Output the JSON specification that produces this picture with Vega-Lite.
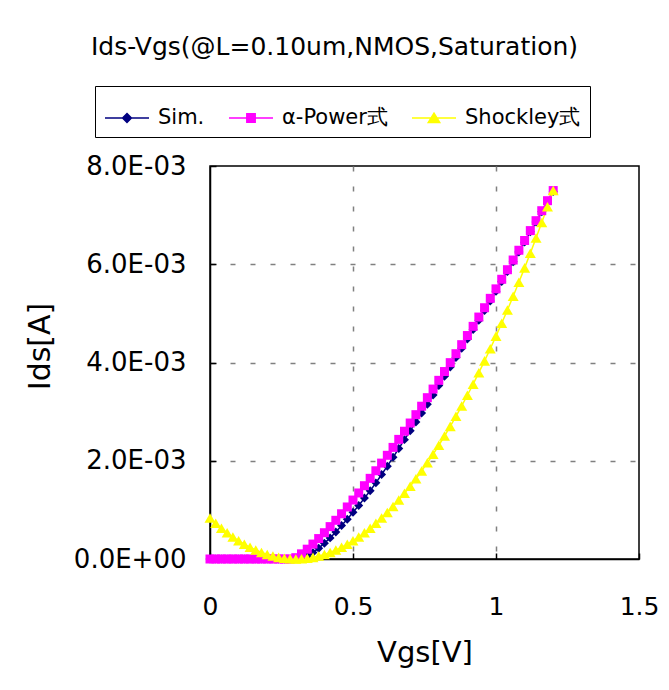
{
  "$schema": "https://vega.github.io/schema/vega-lite/v6.json",
  "width": 429,
  "height": 393,
  "autosize": {"type": "none"},
  "padding": {"left": 210, "top": 166, "right": 30, "bottom": 131},
  "background": "white",
  "title": {
    "text": "Ids-Vgs(@L=0.10um,NMOS,Saturation)",
    "anchor": "middle",
    "frame": "group",
    "dx": -90,
    "offset": 26,
    "font": "DejaVu Sans",
    "fontSize": 25,
    "fontWeight": "normal",
    "color": "black"
  },
  "config": {
    "view": {"stroke": "black", "strokeWidth": 1.5},
    "axis": {
      "domainColor": "black",
      "domainWidth": 1.5,
      "tickColor": "black",
      "tickWidth": 1.5,
      "labelFont": "DejaVu Sans",
      "labelColor": "black",
      "labelFlush": false,
      "labelOverlap": false,
      "titleFont": "DejaVu Sans",
      "titleColor": "black",
      "titleFontWeight": "normal",
      "gridColor": "#808080",
      "gridDash": [5, 15],
      "gridWidth": 1.5
    }
  },
  "data": {
    "values": [
      {"Vgs": 0.00, "Ids": 0, "model": "Sim."},
      {"Vgs": 0.02, "Ids": 0, "model": "Sim."},
      {"Vgs": 0.04, "Ids": 0, "model": "Sim."},
      {"Vgs": 0.06, "Ids": 0, "model": "Sim."},
      {"Vgs": 0.08, "Ids": 0, "model": "Sim."},
      {"Vgs": 0.10, "Ids": 0, "model": "Sim."},
      {"Vgs": 0.12, "Ids": 0, "model": "Sim."},
      {"Vgs": 0.14, "Ids": 0, "model": "Sim."},
      {"Vgs": 0.16, "Ids": 0, "model": "Sim."},
      {"Vgs": 0.18, "Ids": 0, "model": "Sim."},
      {"Vgs": 0.20, "Ids": 0, "model": "Sim."},
      {"Vgs": 0.22, "Ids": 0, "model": "Sim."},
      {"Vgs": 0.24, "Ids": 0, "model": "Sim."},
      {"Vgs": 0.26, "Ids": 0, "model": "Sim."},
      {"Vgs": 0.28, "Ids": 0, "model": "Sim."},
      {"Vgs": 0.30, "Ids": 0.000005, "model": "Sim."},
      {"Vgs": 0.32, "Ids": 0.00002, "model": "Sim."},
      {"Vgs": 0.34, "Ids": 0.00006, "model": "Sim."},
      {"Vgs": 0.36, "Ids": 0.00013, "model": "Sim."},
      {"Vgs": 0.38, "Ids": 0.00022, "model": "Sim."},
      {"Vgs": 0.40, "Ids": 0.00032, "model": "Sim."},
      {"Vgs": 0.42, "Ids": 0.00043, "model": "Sim."},
      {"Vgs": 0.44, "Ids": 0.00055, "model": "Sim."},
      {"Vgs": 0.46, "Ids": 0.00068, "model": "Sim."},
      {"Vgs": 0.48, "Ids": 0.00081, "model": "Sim."},
      {"Vgs": 0.50, "Ids": 0.00095, "model": "Sim."},
      {"Vgs": 0.52, "Ids": 0.00109, "model": "Sim."},
      {"Vgs": 0.54, "Ids": 0.00124, "model": "Sim."},
      {"Vgs": 0.56, "Ids": 0.00139, "model": "Sim."},
      {"Vgs": 0.58, "Ids": 0.00155, "model": "Sim."},
      {"Vgs": 0.60, "Ids": 0.00172, "model": "Sim."},
      {"Vgs": 0.62, "Ids": 0.00189, "model": "Sim."},
      {"Vgs": 0.64, "Ids": 0.00207, "model": "Sim."},
      {"Vgs": 0.66, "Ids": 0.00225, "model": "Sim."},
      {"Vgs": 0.68, "Ids": 0.00243, "model": "Sim."},
      {"Vgs": 0.70, "Ids": 0.00261, "model": "Sim."},
      {"Vgs": 0.72, "Ids": 0.00279, "model": "Sim."},
      {"Vgs": 0.74, "Ids": 0.00297, "model": "Sim."},
      {"Vgs": 0.76, "Ids": 0.00315, "model": "Sim."},
      {"Vgs": 0.78, "Ids": 0.00334, "model": "Sim."},
      {"Vgs": 0.80, "Ids": 0.00353, "model": "Sim."},
      {"Vgs": 0.82, "Ids": 0.00372, "model": "Sim."},
      {"Vgs": 0.84, "Ids": 0.00391, "model": "Sim."},
      {"Vgs": 0.86, "Ids": 0.0041, "model": "Sim."},
      {"Vgs": 0.88, "Ids": 0.00429, "model": "Sim."},
      {"Vgs": 0.90, "Ids": 0.00448, "model": "Sim."},
      {"Vgs": 0.92, "Ids": 0.00467, "model": "Sim."},
      {"Vgs": 0.94, "Ids": 0.00486, "model": "Sim."},
      {"Vgs": 0.96, "Ids": 0.00506, "model": "Sim."},
      {"Vgs": 0.98, "Ids": 0.00525, "model": "Sim."},
      {"Vgs": 1.00, "Ids": 0.00545, "model": "Sim."},
      {"Vgs": 1.02, "Ids": 0.00565, "model": "Sim."},
      {"Vgs": 1.04, "Ids": 0.00585, "model": "Sim."},
      {"Vgs": 1.06, "Ids": 0.00605, "model": "Sim."},
      {"Vgs": 1.08, "Ids": 0.00625, "model": "Sim."},
      {"Vgs": 1.10, "Ids": 0.00645, "model": "Sim."},
      {"Vgs": 1.12, "Ids": 0.00666, "model": "Sim."},
      {"Vgs": 1.14, "Ids": 0.00686, "model": "Sim."},
      {"Vgs": 1.16, "Ids": 0.00707, "model": "Sim."},
      {"Vgs": 1.18, "Ids": 0.00727, "model": "Sim."},
      {"Vgs": 1.20, "Ids": 0.00748, "model": "Sim."},
      {"Vgs": 0.00, "Ids": 0, "model": "α-Power式"},
      {"Vgs": 0.02, "Ids": 0, "model": "α-Power式"},
      {"Vgs": 0.04, "Ids": 0, "model": "α-Power式"},
      {"Vgs": 0.06, "Ids": 0, "model": "α-Power式"},
      {"Vgs": 0.08, "Ids": 0, "model": "α-Power式"},
      {"Vgs": 0.10, "Ids": 0, "model": "α-Power式"},
      {"Vgs": 0.12, "Ids": 0, "model": "α-Power式"},
      {"Vgs": 0.14, "Ids": 0, "model": "α-Power式"},
      {"Vgs": 0.16, "Ids": 0, "model": "α-Power式"},
      {"Vgs": 0.18, "Ids": 0, "model": "α-Power式"},
      {"Vgs": 0.20, "Ids": 0, "model": "α-Power式"},
      {"Vgs": 0.22, "Ids": 0, "model": "α-Power式"},
      {"Vgs": 0.24, "Ids": 0, "model": "α-Power式"},
      {"Vgs": 0.26, "Ids": 0, "model": "α-Power式"},
      {"Vgs": 0.28, "Ids": 0, "model": "α-Power式"},
      {"Vgs": 0.30, "Ids": 0.000027, "model": "α-Power式"},
      {"Vgs": 0.32, "Ids": 0.000105, "model": "α-Power式"},
      {"Vgs": 0.34, "Ids": 0.0002, "model": "α-Power式"},
      {"Vgs": 0.36, "Ids": 0.000304, "model": "α-Power式"},
      {"Vgs": 0.38, "Ids": 0.000416, "model": "α-Power式"},
      {"Vgs": 0.40, "Ids": 0.000535, "model": "α-Power式"},
      {"Vgs": 0.42, "Ids": 0.000659, "model": "α-Power式"},
      {"Vgs": 0.44, "Ids": 0.000788, "model": "α-Power式"},
      {"Vgs": 0.46, "Ids": 0.000921, "model": "α-Power式"},
      {"Vgs": 0.48, "Ids": 0.001059, "model": "α-Power式"},
      {"Vgs": 0.50, "Ids": 0.0012, "model": "α-Power式"},
      {"Vgs": 0.52, "Ids": 0.001344, "model": "α-Power式"},
      {"Vgs": 0.54, "Ids": 0.001492, "model": "α-Power式"},
      {"Vgs": 0.56, "Ids": 0.001642, "model": "α-Power式"},
      {"Vgs": 0.58, "Ids": 0.001796, "model": "α-Power式"},
      {"Vgs": 0.60, "Ids": 0.001952, "model": "α-Power式"},
      {"Vgs": 0.62, "Ids": 0.002111, "model": "α-Power式"},
      {"Vgs": 0.64, "Ids": 0.002272, "model": "α-Power式"},
      {"Vgs": 0.66, "Ids": 0.002435, "model": "α-Power式"},
      {"Vgs": 0.68, "Ids": 0.002601, "model": "α-Power式"},
      {"Vgs": 0.70, "Ids": 0.002768, "model": "α-Power式"},
      {"Vgs": 0.72, "Ids": 0.002938, "model": "α-Power式"},
      {"Vgs": 0.74, "Ids": 0.00311, "model": "α-Power式"},
      {"Vgs": 0.76, "Ids": 0.003284, "model": "α-Power式"},
      {"Vgs": 0.78, "Ids": 0.003459, "model": "α-Power式"},
      {"Vgs": 0.80, "Ids": 0.003637, "model": "α-Power式"},
      {"Vgs": 0.82, "Ids": 0.003816, "model": "α-Power式"},
      {"Vgs": 0.84, "Ids": 0.003997, "model": "α-Power式"},
      {"Vgs": 0.86, "Ids": 0.004179, "model": "α-Power式"},
      {"Vgs": 0.88, "Ids": 0.004363, "model": "α-Power式"},
      {"Vgs": 0.90, "Ids": 0.004549, "model": "α-Power式"},
      {"Vgs": 0.92, "Ids": 0.004736, "model": "α-Power式"},
      {"Vgs": 0.94, "Ids": 0.004925, "model": "α-Power式"},
      {"Vgs": 0.96, "Ids": 0.005115, "model": "α-Power式"},
      {"Vgs": 0.98, "Ids": 0.005306, "model": "α-Power式"},
      {"Vgs": 1.00, "Ids": 0.005499, "model": "α-Power式"},
      {"Vgs": 1.02, "Ids": 0.005694, "model": "α-Power式"},
      {"Vgs": 1.04, "Ids": 0.005889, "model": "α-Power式"},
      {"Vgs": 1.06, "Ids": 0.006086, "model": "α-Power式"},
      {"Vgs": 1.08, "Ids": 0.006285, "model": "α-Power式"},
      {"Vgs": 1.10, "Ids": 0.006484, "model": "α-Power式"},
      {"Vgs": 1.12, "Ids": 0.006685, "model": "α-Power式"},
      {"Vgs": 1.14, "Ids": 0.006887, "model": "α-Power式"},
      {"Vgs": 1.16, "Ids": 0.00709, "model": "α-Power式"},
      {"Vgs": 1.18, "Ids": 0.007294, "model": "α-Power式"},
      {"Vgs": 1.20, "Ids": 0.0075, "model": "α-Power式"},
      {"Vgs": 0.00, "Ids": 0.000833, "model": "Shockley式"},
      {"Vgs": 0.02, "Ids": 0.000726, "model": "Shockley式"},
      {"Vgs": 0.04, "Ids": 0.000626, "model": "Shockley式"},
      {"Vgs": 0.06, "Ids": 0.000533, "model": "Shockley式"},
      {"Vgs": 0.08, "Ids": 0.000448, "model": "Shockley式"},
      {"Vgs": 0.10, "Ids": 0.00037, "model": "Shockley式"},
      {"Vgs": 0.12, "Ids": 0.0003, "model": "Shockley式"},
      {"Vgs": 0.14, "Ids": 0.000237, "model": "Shockley式"},
      {"Vgs": 0.16, "Ids": 0.000182, "model": "Shockley式"},
      {"Vgs": 0.18, "Ids": 0.000133, "model": "Shockley式"},
      {"Vgs": 0.20, "Ids": 0.000093, "model": "Shockley式"},
      {"Vgs": 0.22, "Ids": 0.000059, "model": "Shockley式"},
      {"Vgs": 0.24, "Ids": 0.000033, "model": "Shockley式"},
      {"Vgs": 0.26, "Ids": 0.000015, "model": "Shockley式"},
      {"Vgs": 0.28, "Ids": 0.000004, "model": "Shockley式"},
      {"Vgs": 0.30, "Ids": 0, "model": "Shockley式"},
      {"Vgs": 0.32, "Ids": 0.000004, "model": "Shockley式"},
      {"Vgs": 0.34, "Ids": 0.000015, "model": "Shockley式"},
      {"Vgs": 0.36, "Ids": 0.000033, "model": "Shockley式"},
      {"Vgs": 0.38, "Ids": 0.000059, "model": "Shockley式"},
      {"Vgs": 0.40, "Ids": 0.000093, "model": "Shockley式"},
      {"Vgs": 0.42, "Ids": 0.000133, "model": "Shockley式"},
      {"Vgs": 0.44, "Ids": 0.000182, "model": "Shockley式"},
      {"Vgs": 0.46, "Ids": 0.000237, "model": "Shockley式"},
      {"Vgs": 0.48, "Ids": 0.0003, "model": "Shockley式"},
      {"Vgs": 0.50, "Ids": 0.00037, "model": "Shockley式"},
      {"Vgs": 0.52, "Ids": 0.000448, "model": "Shockley式"},
      {"Vgs": 0.54, "Ids": 0.000533, "model": "Shockley式"},
      {"Vgs": 0.56, "Ids": 0.000626, "model": "Shockley式"},
      {"Vgs": 0.58, "Ids": 0.000726, "model": "Shockley式"},
      {"Vgs": 0.60, "Ids": 0.000833, "model": "Shockley式"},
      {"Vgs": 0.62, "Ids": 0.000948, "model": "Shockley式"},
      {"Vgs": 0.64, "Ids": 0.00107, "model": "Shockley式"},
      {"Vgs": 0.66, "Ids": 0.0012, "model": "Shockley式"},
      {"Vgs": 0.68, "Ids": 0.001337, "model": "Shockley式"},
      {"Vgs": 0.70, "Ids": 0.001481, "model": "Shockley式"},
      {"Vgs": 0.72, "Ids": 0.001633, "model": "Shockley式"},
      {"Vgs": 0.74, "Ids": 0.001793, "model": "Shockley式"},
      {"Vgs": 0.76, "Ids": 0.001959, "model": "Shockley式"},
      {"Vgs": 0.78, "Ids": 0.002133, "model": "Shockley式"},
      {"Vgs": 0.80, "Ids": 0.002315, "model": "Shockley式"},
      {"Vgs": 0.82, "Ids": 0.002504, "model": "Shockley式"},
      {"Vgs": 0.84, "Ids": 0.0027, "model": "Shockley式"},
      {"Vgs": 0.86, "Ids": 0.002904, "model": "Shockley式"},
      {"Vgs": 0.88, "Ids": 0.003115, "model": "Shockley式"},
      {"Vgs": 0.90, "Ids": 0.003333, "model": "Shockley式"},
      {"Vgs": 0.92, "Ids": 0.003559, "model": "Shockley式"},
      {"Vgs": 0.94, "Ids": 0.003793, "model": "Shockley式"},
      {"Vgs": 0.96, "Ids": 0.004033, "model": "Shockley式"},
      {"Vgs": 0.98, "Ids": 0.004281, "model": "Shockley式"},
      {"Vgs": 1.00, "Ids": 0.004537, "model": "Shockley式"},
      {"Vgs": 1.02, "Ids": 0.0048, "model": "Shockley式"},
      {"Vgs": 1.04, "Ids": 0.00507, "model": "Shockley式"},
      {"Vgs": 1.06, "Ids": 0.005348, "model": "Shockley式"},
      {"Vgs": 1.08, "Ids": 0.005633, "model": "Shockley式"},
      {"Vgs": 1.10, "Ids": 0.005926, "model": "Shockley式"},
      {"Vgs": 1.12, "Ids": 0.006226, "model": "Shockley式"},
      {"Vgs": 1.14, "Ids": 0.006533, "model": "Shockley式"},
      {"Vgs": 1.16, "Ids": 0.006848, "model": "Shockley式"},
      {"Vgs": 1.18, "Ids": 0.00717, "model": "Shockley式"},
      {"Vgs": 1.20, "Ids": 0.0075, "model": "Shockley式"}
    ]
  },
  "encoding": {
    "x": {
      "field": "Vgs",
      "type": "quantitative",
      "scale": {"domain": [0, 1.5], "nice": false},
      "axis": {
        "values": [0, 0.5, 1, 1.5],
        "format": "~g",
        "title": "Vgs[V]",
        "titleFontSize": 29,
        "titleY": 93,
        "titleBaseline": "middle",
        "labelFontSize": 25,
        "labelPadding": 41,
        "tickSize": -6,
        "grid": true,
        "gridOpacity": {"condition": {"test": "datum.value == 0 || datum.value == 1.5", "value": 0}, "value": 1}
      }
    },
    "y": {
      "field": "Ids",
      "type": "quantitative",
      "scale": {"domain": [0, 0.008], "nice": false},
      "axis": {
        "values": [0, 0.002, 0.004, 0.006, 0.008],
        "labelExpr": "datum.value == 0 ? '0.0E+00' : format(datum.value * 1000, '.1f') + 'E-03'",
        "title": "Ids[A]",
        "titleFontSize": 30,
        "titleX": -170,
        "titleY": 180,
        "titleAngle": -90,
        "titleAlign": "center",
        "titleBaseline": "middle",
        "labelFontSize": 26,
        "labelPadding": 30,
        "tickSize": -6,
        "grid": true,
        "gridOpacity": {"condition": {"test": "datum.value == 0 || datum.value == 0.008", "value": 0}, "value": 1}
      }
    },
    "color": {
      "field": "model",
      "type": "nominal",
      "sort": null,
      "scale": {"domain": ["Sim.", "α-Power式", "Shockley式"], "range": ["#000080", "#FF00FF", "#FFFF00"]},
      "legend": {
        "orient": "none",
        "legendX": -115,
        "legendY": -80,
        "direction": "horizontal",
        "title": null,
        "strokeColor": "black",
        "fillColor": "white",
        "padding": 9,
        "labelFont": "DejaVu Sans",
        "labelFontSize": 21,
        "labelColor": "black",
        "symbolSize": 1936,
        "symbolType": "circle",
        "columnPadding": 21,
        "labelOffset": 8,
        "symbolStrokeWidth": 1.5,
        "encoding": {
          "symbols": {
            "shape": {"value": {"expr": "datum.value === 'Sim.' ? 'M-1,0H1M0,-0.2L0.2,0L0,0.2L-0.2,0Z' : datum.value === 'Shockley式' ? 'M-1,0H1M0,-0.22L0.26,0.2H-0.26Z' : 'M-1,0H1M-0.19,-0.19H0.19V0.19H-0.19Z'"}},
            "stroke": {"value": {"expr": "datum.value === 'Sim.' ? '#000080' : datum.value === 'Shockley式' ? '#FFFF00' : '#FF00FF'"}},
            "fill": {"value": {"expr": "datum.value === 'Sim.' ? '#000080' : datum.value === 'Shockley式' ? '#FFFF00' : '#FF00FF'"}},
            "strokeWidth": {"value": 1.5},
            "size": {"value": 1936},
            "opacity": {"value": 1}
          }
        }
      }
    }
  },
  "layer": [
    {
      "mark": {"type": "line", "strokeWidth": 1.5},
      "encoding": {"order": {"field": "Vgs"}}
    },
    {
      "transform": [{"filter": "datum.model === 'Sim.'"}],
      "mark": {"type": "point", "filled": true, "opacity": 1, "shape": "diamond", "size": 80}
    },
    {
      "transform": [{"filter": "datum.model === 'α-Power式'"}],
      "mark": {"type": "point", "filled": true, "opacity": 1, "shape": "square", "size": 81}
    },
    {
      "transform": [{"filter": "datum.model === 'Shockley式'"}],
      "mark": {"type": "point", "filled": true, "opacity": 1, "shape": "triangle-up", "size": 121}
    }
  ]
}
